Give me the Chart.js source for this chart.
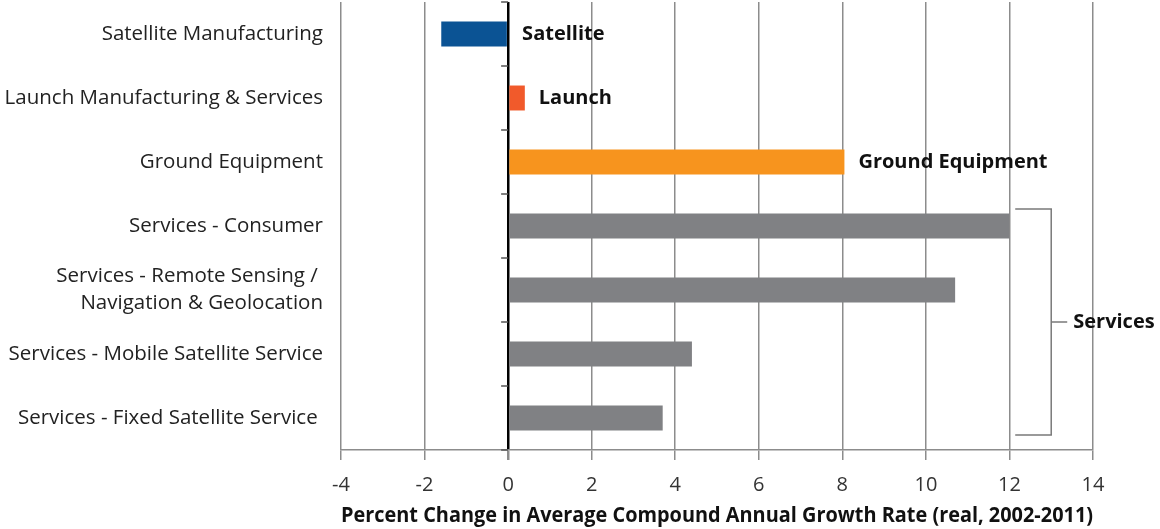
<!DOCTYPE html>
<html lang="en">
<head>
  <meta charset="UTF-8">
  <title>Space industry growth by segment</title>
  <script src="https://cdn.jsdelivr.net/npm/chart.js"></script>
  <style>
    body { margin: 0; background: #fff; }
    #growthChart { display: block; }
  </style>
</head>
<body>
  <canvas id="growthChart" width="1160" height="529"></canvas>

  <script>
    // Data
    const categories = [
      'Satellite Manufacturing',
      'Launch Manufacturing & Services',
      'Ground Equipment',
      'Services - Consumer',
      ['Services - Remote Sensing / ', 'Navigation & Geolocation'],
      'Services - Mobile Satellite Service',
      'Services - Fixed Satellite Service '
    ];
    const growthValues = [-1.6, 0.4, 8.05, 12.0, 10.7, 4.4, 3.7];
    const barColors = ['#0b5394', '#f15a2b', '#f7941e', '#808184', '#808184', '#808184', '#808184'];
    const barLabels = ['Satellite', 'Launch', 'Ground Equipment', '', '', '', ''];
    const xTicks = [-4, -2, 0, 2, 4, 6, 8, 10, 12, 14];
    const groupLabel = 'Services';
    const groupRange = [3, 6]; // first and last category index in the bracket
    const groupX = 13;

    const FONT = '"Open Sans"';

    // bar end labels + services bracket + little ticks on the zero line
    const annotations = {
      id: 'annotations',
      afterDatasetsDraw(chart) {
        const ctx = chart.ctx;
        const xs = chart.scales.x, ys = chart.scales.y;
        const meta = chart.getDatasetMeta(0);
        ctx.save();

        // ticks on zero line
        const x0 = xs.getPixelForValue(0);
        ctx.strokeStyle = '#555';
        ctx.lineWidth = 1.5;
        for (let i = 0; i <= categories.length; i++) {
          const y = ys.getPixelForValue(i - 0.5);
          ctx.beginPath();
          ctx.moveTo(x0 - 7, y);
          ctx.lineTo(x0, y);
          ctx.stroke();
        }

        // labels at bar ends
        ctx.fillStyle = '#111';
        ctx.font = 'bold 20px ' + FONT;
        ctx.textAlign = 'left';
        ctx.textBaseline = 'middle';
        meta.data.forEach((bar, i) => {
          if (!barLabels[i]) return;
          const x = xs.getPixelForValue(Math.max(growthValues[i], 0)) + 14;
          ctx.fillText(barLabels[i], x, bar.y);
        });

        // bracket
        const bx = xs.getPixelForValue(groupX);
        const top = meta.data[groupRange[0]].y - 17;
        const bottom = meta.data[groupRange[1]].y + 17;
        const mid = (top + bottom) / 2;
        ctx.strokeStyle = '#7a7a7a';
        ctx.lineWidth = 1.5;
        ctx.beginPath();
        ctx.moveTo(bx - 36, top);
        ctx.lineTo(bx, top);
        ctx.lineTo(bx, bottom);
        ctx.lineTo(bx - 36, bottom);
        ctx.moveTo(bx, mid);
        ctx.lineTo(bx + 16, mid);
        ctx.stroke();
        ctx.fillText(groupLabel, bx + 22, mid);
        ctx.restore();
      }
    };

    const config = {
      type: 'bar',
      data: {
        labels: categories,
        datasets: [{
          data: growthValues,
          backgroundColor: barColors,
          borderWidth: 0,
          barPercentage: 0.5,
          categoryPercentage: 0.78
        }]
      },
      options: {
        indexAxis: 'y',
        responsive: false,
        animation: false,
        devicePixelRatio: 1,
        layout: { padding: { top: 2, right: 67, left: 0, bottom: 0 } },
        scales: {
          x: {
            min: -4,
            max: 14,
            afterBuildTicks: (scale) => { scale.ticks = xTicks.map(v => ({ value: v })); },
            grid: {
              color: (c) => c.tick && c.tick.value === 0 ? '#000' : '#8c8c8c',
              lineWidth: (c) => c.tick && c.tick.value === 0 ? 2.5 : 1.5,
              tickLength: 10,
              tickColor: '#8c8c8c'
            },
            border: { color: '#8c8c8c', width: 1.5 },
            ticks: {
              color: '#333',
              font: { family: FONT, size: 20 },
              padding: 13,
              maxRotation: 0
            },
            title: {
              display: true,
              text: 'Percent Change in Average Compound Annual Growth Rate (real, 2002-2011)',
              color: '#111',
              font: { family: FONT, size: 21, weight: 'bold' },
              padding: { top: 6, bottom: 0 }
            },
            afterFit: (scale) => { scale.height = 79; scale.paddingLeft = 0; scale.paddingRight = 0; }
          },
          y: {
            grid: { display: false },
            border: { display: false },
            ticks: {
              color: '#222',
              font: { family: FONT, size: 20.5, lineHeight: 1.32 },
              padding: 10
            },
            afterFit: (scale) => { scale.width = 341; scale.paddingTop = 0; scale.paddingBottom = 0; }
          }
        },
        plugins: {
          legend: { display: false },
          tooltip: { enabled: false }
        }
      },
      plugins: [annotations]
    };

    new Chart(document.getElementById('growthChart'), config);
  </script>
</body>
</html>
